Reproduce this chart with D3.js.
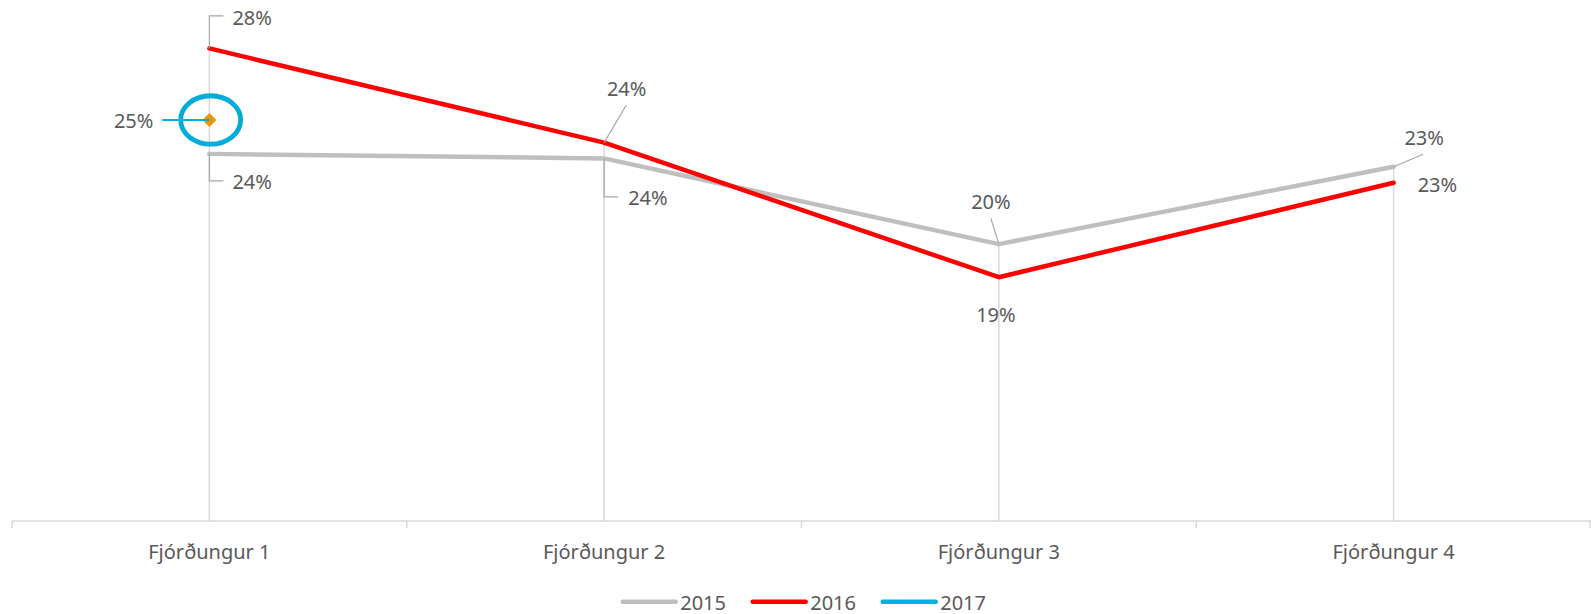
<!DOCTYPE html>
<html>
<head>
<meta charset="utf-8">
<script src="https://cdn.jsdelivr.net/npm/d3@7"></script>
<style>
  body { margin: 0; background: #fff; }
  svg { display: block; font-family: "Noto Sans", "Open Sans", sans-serif; }
  .lbl { fill: #595959; font-size: 20px; }
</style>
</head>
<body>
<svg width="1591" height="614"></svg>
<script>
// data
var categories = ["Fjórðungur 1", "Fjórðungur 2", "Fjórðungur 3", "Fjórðungur 4"];
var years = ["2015", "2016", "2017"];
var values2015 = [0.2375, 0.2358, 0.2037, 0.2327];
var values2016 = [0.2770, 0.2417, 0.1913, 0.2267];
var values2017 = [0.2502, null, null, null];
var colors = ["#bfbfbf", "#ff0000", "#00b0e0"];

var series = [values2015, values2016, values2017];

// where each data label sits relative to its point
// kind: "elbow" = vertical then horizontal leader, "line" = straight leader, "none"
var labelLayout = [
  [ {kind: "elbow", ly: 27, tx: 23, ty: 35.3, anchor: "start"},
    {kind: "elbow", ly: 38.4, tx: 24, ty: 46.7, anchor: "start"},
    {kind: "line", lx: -8, ly: -25.7, tx: -8, ty: -35, anchor: "middle"},
    {kind: "line", lx: 29.5, ly: -12.4, tx: 30.5, ty: -21.7, anchor: "middle"} ],
  [ {kind: "elbow", ly: -32.6, tx: 23, ty: -23.5, anchor: "start"},
    {kind: "line", lx: 22.2, ly: -37.7, tx: 22.5, ty: -46.7, anchor: "middle"},
    {kind: "none", tx: -3, ty: 44.4, anchor: "middle"},
    {kind: "none", tx: 24, ty: 9.6, anchor: "start"} ],
  [ {kind: "hline", lx: -47, ly: 0, tx: -56, ty: 8.5, anchor: "end"} ]
];

var svg = d3.select("svg");
var axisY = 521;

var x = d3.scaleBand().domain(categories).range([12, 1591]).paddingInner(0);
var y = d3.scaleLinear().domain([0.10, 0.30]).range([axisY, -13]);
var fmt = d3.format(".0%");
var cx = function(i) { return x(categories[i]) + x.bandwidth() / 2; };

// drop lines from highest point down to axis
var maxima = categories.map(function(c, i) {
  return d3.max(series, function(s) { return s[i]; });
});
svg.append("g").selectAll("line")
  .data(maxima)
  .enter().append("line")
  .attr("x1", function(d, i) { return cx(i); })
  .attr("x2", function(d, i) { return cx(i); })
  .attr("y1", function(d) { return y(d); })
  .attr("y2", axisY)
  .attr("stroke", "#d9d9d9")
  .attr("stroke-width", 1.5);

// axis
var axisG = svg.append("g").attr("transform", "translate(0," + axisY + ")");
axisG.append("line")
  .attr("x1", 12).attr("x2", 1591)
  .attr("stroke", "#d9d9d9").attr("stroke-width", 1.5);
var bounds = categories.map(function(c) { return x(c); }).concat([x.range()[1] - 1]);
axisG.selectAll(".tk")
  .data(bounds)
  .enter().append("line")
  .attr("x1", function(d) { return d; })
  .attr("x2", function(d) { return d; })
  .attr("y1", 0).attr("y2", 7)
  .attr("stroke", "#d9d9d9").attr("stroke-width", 1.5);

var xAxis = d3.axisBottom(x).tickSize(0).tickPadding(0);
var ax = svg.append("g").attr("transform", "translate(0," + axisY + ")").call(xAxis);
ax.select(".domain").remove();
ax.selectAll("text")
  .attr("class", "lbl")
  .attr("dy", null)
  .attr("y", 38)
  .style("font-family", "'Noto Sans', sans-serif")
  .style("font-size", "20px")
  .attr("fill", "#595959");

// lines
var line = d3.line()
  .defined(function(d) { return d != null; })
  .x(function(d, i) { return cx(i); })
  .y(function(d) { return y(d); });

series.forEach(function(s, k) {
  svg.append("path")
    .datum(s)
    .attr("d", line)
    .attr("fill", "none")
    .attr("stroke", colors[k])
    .attr("stroke-width", 4.5)
    .attr("stroke-linejoin", "round")
    .attr("stroke-linecap", "round");
});

// 2017 marker
var diamond = d3.symbol().type(d3.symbolDiamond2).size(125);
svg.append("g").selectAll("path")
  .data(values2017.map(function(v, i) { return {v: v, i: i}; }).filter(function(d) { return d.v != null; }))
  .enter().append("path")
  .attr("d", diamond)
  .attr("transform", function(d) { return "translate(" + cx(d.i) + "," + y(d.v) + ")"; })
  .attr("fill", "#e8940a");

// data labels
var lblG = svg.append("g");
series.forEach(function(s, k) {
  s.forEach(function(v, i) {
    if (v == null) return;
    var L = labelLayout[k][i];
    var px = cx(i), py = y(v);
    var lineColor = k === 2 ? colors[2] : "#a6a6a6";
    if (L.kind === "elbow") {
      lblG.append("path")
        .attr("d", "M" + px + "," + py + "V" + (py + L.ly) + "H" + (px + 14))
        .attr("fill", "none").attr("stroke", lineColor).attr("stroke-width", 1.2);
    } else if (L.kind === "line" || L.kind === "hline") {
      lblG.append("line")
        .attr("x1", px).attr("y1", py)
        .attr("x2", px + L.lx).attr("y2", py + L.ly)
        .attr("stroke", lineColor).attr("stroke-width", L.kind === "hline" ? 2 : 1.2);
    }
    lblG.append("text")
      .attr("class", "lbl")
      .attr("x", px + L.tx)
      .attr("y", py + L.ty)
      .attr("text-anchor", L.anchor)
      .text(fmt(v));
  });
});

// highlight ring round the 2017 point
svg.append("ellipse")
  .attr("cx", cx(0) + 1.3)
  .attr("cy", y(values2017[0]))
  .attr("rx", 30)
  .attr("ry", 24.2)
  .attr("fill", "none")
  .attr("stroke", "#00acd8")
  .attr("stroke-width", 4.8);

// legend
var legend = svg.append("g").attr("transform", "translate(621.7,601.7)");
var item = legend.selectAll("g")
  .data(years)
  .enter().append("g")
  .attr("transform", function(d, i) { return "translate(" + (i * 130) + ",0)"; });
item.append("line")
  .attr("x1", 1).attr("x2", 54)
  .attr("stroke", function(d, i) { return colors[i]; })
  .attr("stroke-width", 4.5)
  .attr("stroke-linecap", "round");
item.append("text")
  .attr("class", "lbl")
  .attr("x", 58.5)
  .attr("y", 7.8)
  .text(function(d) { return d; });
</script>
</body>
</html>
